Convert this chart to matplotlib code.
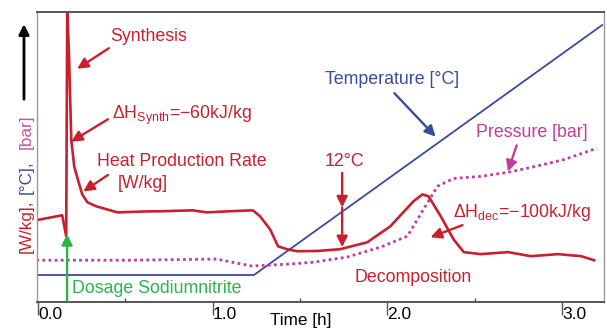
import matplotlib
matplotlib.use("Agg")
import matplotlib.pyplot as plt

plt.rcParams['font.family'] = ['Liberation Sans', 'DejaVu Sans']
plt.rcParams['mathtext.fontset'] = 'custom'
plt.rcParams['mathtext.rm'] = 'Liberation Sans'

# data (time in h, y in % of plot height)
heat_t = [-0.01, 0.138, 0.161, 0.167, 0.178, 0.190, 0.207, 0.236, 0.253, 0.282, 0.333,
          0.454, 0.60, 0.713, 0.885, 0.966, 1.10, 1.230, 1.270, 1.328, 1.374, 1.425,
          1.483, 1.60, 1.730, 1.885, 2.017, 2.149, 2.201, 2.236, 2.305, 2.379, 2.437,
          2.534, 2.690, 2.822, 2.977, 3.109, 3.184]
heat_y = [28.2, 29.9, 22.7, 101, 83.5, 56.0, 46.7, 40.5, 37.1, 34.4, 33.0,
          30.9, 31.2, 31.3, 31.6, 30.9, 31.3, 31.6, 29.6, 25.1, 19.2, 18.2,
          17.5, 17.6, 18.2, 20.6, 26.1, 34.7, 37.1, 36.4, 29.6, 21.6, 17.2,
          16.5, 17.2, 15.8, 16.5, 15.8, 14.4]

temp_t = [-0.01, 1.236, 3.23]
temp_y = [9.3, 9.3, 95.5]

press_t = [-0.01, 0.523, 1.023, 1.138, 1.224, 1.443, 1.575, 1.770, 1.960, 2.115,
           2.207, 2.287, 2.379, 2.534, 2.690, 2.822, 3.011, 3.20]
press_y = [14.4, 14.4, 14.8, 13.4, 12.4, 13.1, 13.7, 15.5, 18.9, 22.7,
           32.0, 39.9, 42.6, 43.3, 44.7, 46.4, 49.1, 53.0]

major_ticks = [0, 1, 2, 3]
major_labels = ['0.0', '1.0', '2.0', '3.0']
minor_ticks = [0.5, 1.5, 2.5]

red = '#c8202e'
blue = '#3a4a9e'
magenta = '#c23c98'
green = '#2db34a'

fig = plt.figure(figsize=(6.07, 3.29), dpi=100)
ax = fig.add_axes([0.061, 0.0821, 0.934, 0.8815])

ax.plot(temp_t, temp_y, color=blue, lw=1.3)
ax.plot(press_t, press_y, color=magenta, lw=2.0, ls=(0, (1, 1.2)))
ax.plot(heat_t, heat_y, color=red, lw=1.9, solid_joinstyle='round')

ax.set_xlim(-0.006, 3.24)
ax.set_ylim(0, 100)
ax.set_yticks([])
ax.set_xticks(major_ticks)
ax.set_xticklabels(major_labels, ha='left', fontsize=12.5)
ax.set_xticks(minor_ticks, minor=True)
ax.tick_params(axis='x', which='major', direction='out', length=9, width=1, pad=-5.5, color='#555')
ax.tick_params(axis='x', which='minor', direction='in', length=3, width=1, color='#555')
for s in ['top', 'bottom']:
    ax.spines[s].set_color('#555')
    ax.spines[s].set_linewidth(1.4)
for s in ['left', 'right']:
    ax.spines[s].set_color('#999')
    ax.spines[s].set_linewidth(1.0)

fig.text(0.495, 0.003, 'Time [h]', ha='center', va='bottom', fontsize=12.3)

fs = 12.8
def arrow(tail, head, color):
    ax.annotate('', xy=head, xytext=tail,
                arrowprops=dict(arrowstyle='-|>', color=color, lw=1.7, mutation_scale=16,
                                shrinkA=0, shrinkB=0))

ax.text(0.412, 91.4, 'Synthesis', color=red, fontsize=fs, va='center')
arrow((0.405, 87.5), (0.224, 80.4), red)

ax.text(0.424, 64.5, r'ΔH$_{\mathregular{Synth}}$=−60kJ/kg', color=red, fontsize=fs, va='center')
arrow((0.40, 63.0), (0.190, 55.3), red)

ax.text(0.338, 48.3, 'Heat Production Rate', color=red, fontsize=fs, va='center')
ax.text(0.458, 41.0, '[W/kg]', color=red, fontsize=fs, va='center')
arrow((0.40, 43.8), (0.259, 38.1), red)

ax.text(0.195, 4.8, 'Dosage Sodiumnitrite', color=green, fontsize=fs, va='center')
arrow((0.166, 0.5), (0.166, 23.4), green)

ax.text(1.643, 76.6, 'Temperature [°C]', color=blue, fontsize=fs, va='center')
arrow((2.04, 72.0), (2.276, 57.0), blue)

ax.text(2.507, 58.6, 'Pressure [bar]', color=magenta, fontsize=fs, va='center')
arrow((2.74, 54.0), (2.69, 45.0), magenta)

ax.text(1.752, 48.3, '12°C', color=red, fontsize=fs, va='center', ha='center')
arrow((1.741, 44.5), (1.741, 32.6), red)
arrow((1.741, 32.6), (1.741, 18.9), red)

ax.text(2.375, 31.0, r'ΔH$_{\mathregular{dec}}$=−100kJ/kg', color=red, fontsize=fs, va='center')
arrow((2.43, 26.5), (2.247, 22.3), red)

ax.text(2.149, 8.4, 'Decomposition', color=red, fontsize=fs, va='center', ha='center')

# multi-coloured y label and arrow
fig.text(0.043, 0.3116, '[W/kg],', color=red, rotation=90, ha='center', va='center', fontsize=12.3)
fig.text(0.043, 0.462, '[°C],', color=blue, rotation=90, ha='center', va='center', fontsize=12.3)
fig.text(0.043, 0.599, '[bar]', color='#c8559a', rotation=90, ha='center', va='center', fontsize=12.3)
fig.add_artist(matplotlib.patches.FancyArrowPatch((0.0395, 0.69), (0.0395, 0.935),
               transform=fig.transFigure, arrowstyle='-|>', mutation_scale=15, lw=2, color='black'))

fig.savefig('out.png', dpi=100)
